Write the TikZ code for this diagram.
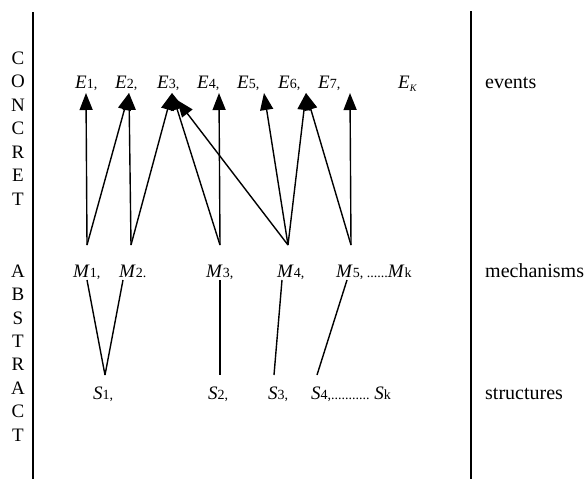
\documentclass[tikz,border=0pt]{standalone}
\usepackage{fontspec}
\setmainfont{Liberation Serif}
\usetikzlibrary{arrows.meta}

\newcommand{\lab}[2]{\textit{#1}{\fontsize{14}{14}\selectfont #2}}
\tikzset{
  lbl/.style={anchor=base west, inner sep=0pt, font=\fontsize{19}{19}\selectfont},
  side/.style={anchor=base west, inner sep=0pt, font=\fontsize{20}{20}\selectfont},
  vert/.style={inner sep=0pt, font=\fontsize{19}{19}\selectfont},
  arr/.style={line width=1.4pt, -{Triangle[length=17pt,width=13pt]}},
  ln/.style={line width=1.4pt}
}

\begin{document}
\begin{tikzpicture}[x=1pt,y=-1pt]
    \useasboundingbox (0,0) rectangle (586,479);
    % frame lines
    \draw[line width=1.8pt] (33,12) -- (33,479);
    \draw[line width=1.8pt] (471,11) -- (471,479);
    % vertical words
    \foreach \c [count=\i from 0] in {C,O,N,C,R,E,T}
        \node[vert] (cw\i) at (18,58+23.5*\i) {\c};
    \foreach \c [count=\i from 0] in {A,B,S,T,R,A,C,T}
        \node[vert] (aw\i) at (18,271+23.4*\i) {\c};
    % events
    \node[lbl] (e1) at (75,88) {\lab{E}{1,}};
    \node[lbl] (e2) at (115,88) {\lab{E}{2,}};
    \node[lbl] (e3) at (157,88) {\lab{E}{3,}};
    \node[lbl] (e4) at (197,88) {\lab{E}{4,}};
    \node[lbl] (e5) at (237,88) {\lab{E}{5,}};
    \node[lbl] (e6) at (278,88) {\lab{E}{6,}};
    \node[lbl] (e7) at (318,88) {\lab{E}{7,}};
    \node[lbl] (ek) at (398,88) {\textit{E}\raisebox{-3pt}{\fontsize{10}{10}\selectfont\textit{K}}};
    % mechanisms
    \node[lbl] (m1) at (73,277) {\lab{M}{1,}};
    \node[lbl] (m2) at (119,277) {\lab{M}{2.}};
    \node[lbl] (m3) at (206,277) {\lab{M}{3,}};
    \node[lbl] (m4) at (277,277) {\lab{M}{4,}};
    \node[lbl] (m5) at (336,277) {\lab{M}{5, ......}\lab{M}{k}};
    % structures
    \node[lbl] (s1) at (93,399) {\lab{S}{1,}};
    \node[lbl] (s2) at (208,399) {\lab{S}{2,}};
    \node[lbl] (s3) at (268,399) {\lab{S}{3,}};
    \node[lbl] (s4) at (311,399) {\lab{S}{4,........... }\lab{S}{k}};
    % right side
    \node[side] (ev) at (485,88) {events};
    \node[side] (me) at (485,277) {mechanisms};
    \node[side] (st) at (485,399) {structures};
    % connection points
    \coordinate (te1) at (86,93);
    \coordinate (te2) at (129,93);
    \coordinate (te3) at (172,93);
    \coordinate (te3b) at (177,100);
    \coordinate (te4) at (219,93);
    \coordinate (te5) at (264,93);
    \coordinate (te6) at (306,93);
    \coordinate (te7) at (350,93);
    \coordinate (um1) at (87,245);
    \coordinate (um2) at (131,245);
    \coordinate (um3) at (220,245);
    \coordinate (um4) at (288,245);
    \coordinate (um5) at (351,245);
    \coordinate (dm1) at (87,280);
    \coordinate (dm2) at (123,280);
    \coordinate (dm3) at (220,280);
    \coordinate (dm4) at (282,280);
    \coordinate (dm5) at (347,280);
    \coordinate (us1) at (105,375);
    \coordinate (us2) at (220,375);
    \coordinate (us3) at (274,375);
    \coordinate (us4) at (317,375);
    % mechanisms to events
    \foreach \a/\b in {um1/te1, um1/te2, um2/te2, um2/te3, um3/te3, um3/te4,
                       um4/te3b, um4/te5, um4/te6, um5/te6, um5/te7}
        \draw[arr] (\a) -- (\b);
    % structures to mechanisms
    \foreach \a/\b in {dm1/us1, dm2/us1, dm3/us2, dm4/us3, dm5/us4}
        \draw[ln] (\a) -- (\b);
\end{tikzpicture}
\end{document}
